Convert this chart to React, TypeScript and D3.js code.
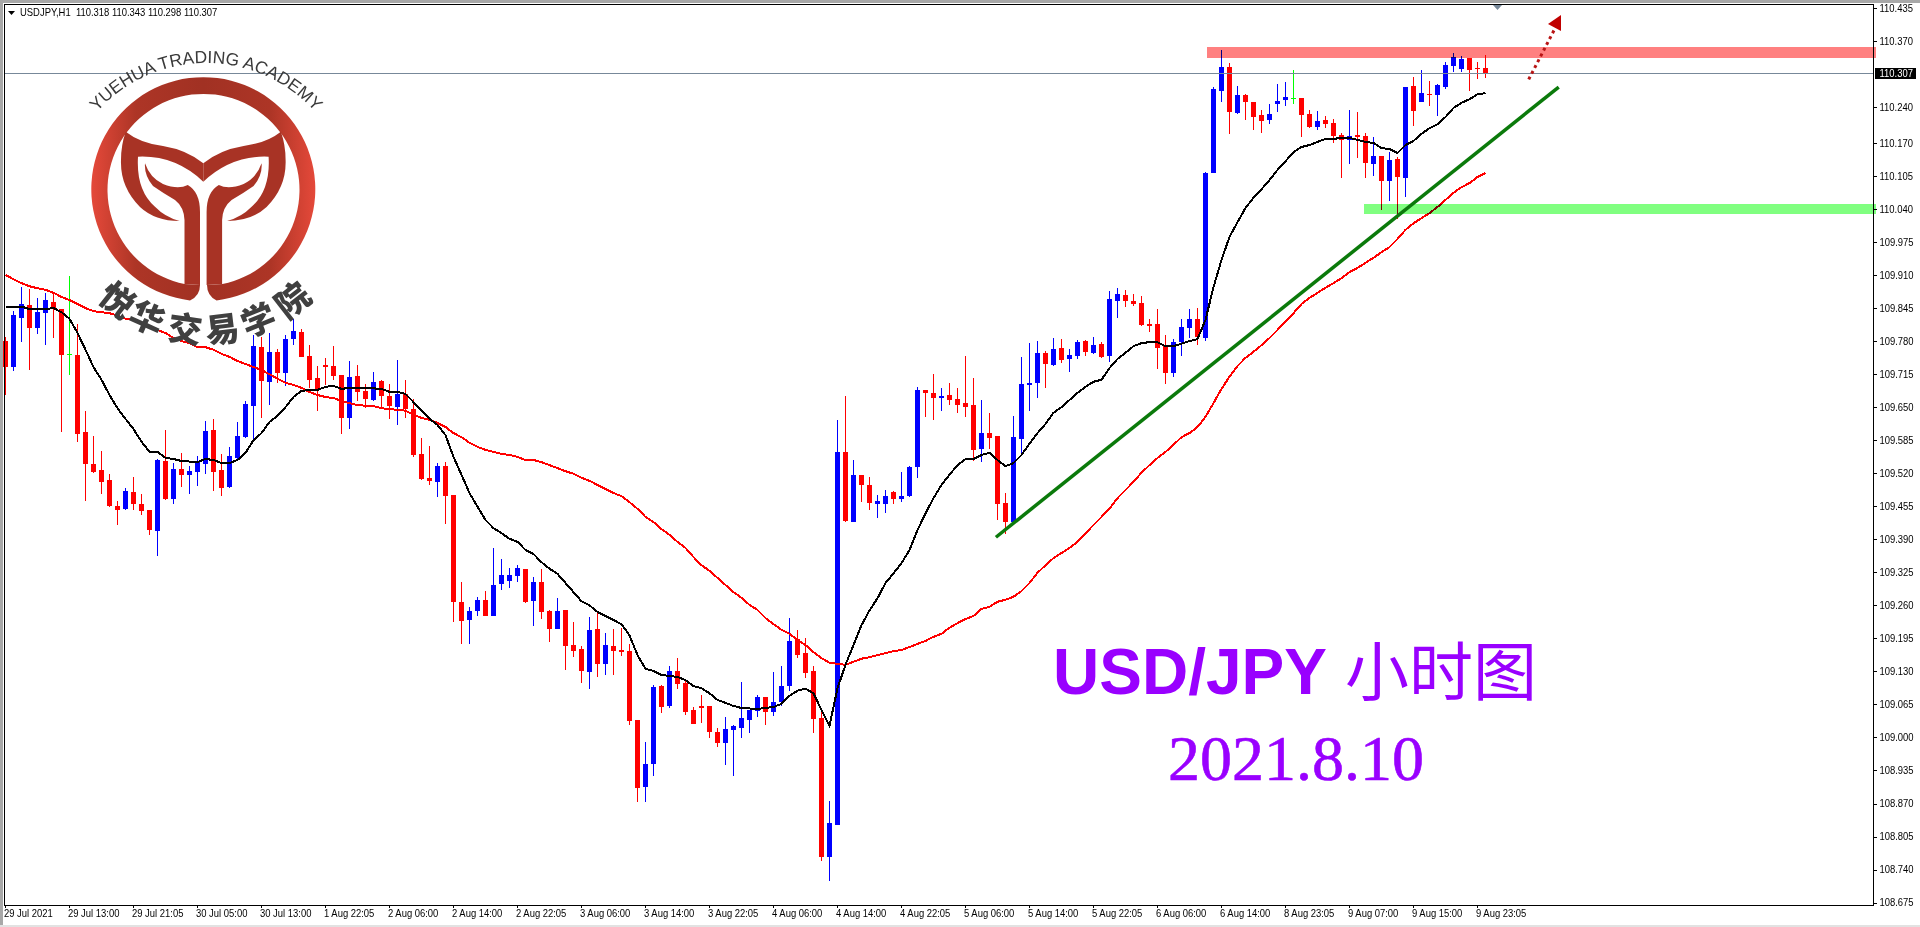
import React from 'react'
import * as d3 from 'd3'

const opens = [
  109.78, 109.73, 109.826, 109.851, 109.806, 109.835, 109.857, 109.843, 109.754, 109.753,
  109.601, 109.538, 109.526, 109.507, 109.456, 109.45, 109.483, 109.46, 109.448, 109.406,
  109.544, 109.469, 109.528, 109.517, 109.522, 109.538, 109.605, 109.526, 109.493, 109.55,
  109.591, 109.652, 109.768, 109.7, 109.759, 109.717, 109.784, 109.798, 109.751, 109.708,
  109.733, 109.731, 109.713, 109.629, 109.711, 109.682, 109.664, 109.702, 109.672, 109.65,
  109.676, 109.646, 109.558, 109.511, 109.503, 109.534, 109.477, 109.266, 109.231, 109.248,
  109.27, 109.24, 109.302, 109.308, 109.318, 109.332, 109.268, 109.306, 109.248, 109.213,
  109.25, 109.182, 109.174, 109.129, 109.213, 109.144, 109.18, 109.172, 109.17, 109.035,
  108.903, 108.948, 109.101, 109.062, 109.131, 109.107, 109.054, 109.062, 109.062, 109.011,
  108.989, 109.015, 109.019, 109.035, 109.052, 109.08, 109.05, 109.07, 109.101, 109.194,
  109.166, 109.131, 109.039, 108.765, 108.828, 109.562, 109.424, 109.517, 109.497, 109.46,
  109.46, 109.483, 109.469, 109.475, 109.532, 109.684, 109.678, 109.668, 109.674, 109.666,
  109.658, 109.654, 109.568, 109.599, 109.593, 109.461, 109.424, 109.587, 109.694, 109.698,
  109.757, 109.733, 109.767, 109.745, 109.751, 109.78, 109.757, 109.774, 109.751, 109.859,
  109.871, 109.859, 109.855, 109.814, 109.814, 109.77, 109.717, 109.778, 109.806, 109.824,
  109.786, 110.111, 110.272, 110.319, 110.229, 110.264, 110.251, 110.225, 110.215, 110.247,
  110.255, 110.258, 110.258, 110.227, 110.201, 110.215, 110.209, 110.186, 110.176, 110.186,
  110.184, 110.129, 110.144, 110.095, 110.138, 110.101, 110.282, 110.251, 110.266, 110.264,
  110.28, 110.321, 110.316, 110.337, 110.318, 110.318,
]
const highs = [
  109.789, 109.839, 109.887, 109.883, 109.865, 109.875, 109.873, 109.843, 109.908, 109.814,
  109.643, 109.593, 109.564, 109.519, 109.465, 109.491, 109.513, 109.479, 109.448, 109.548,
  109.605, 109.54, 109.56, 109.534, 109.554, 109.623, 109.627, 109.558, 109.572, 109.621,
  109.662, 109.792, 109.788, 109.796, 109.765, 109.792, 109.824, 109.804, 109.772, 109.731,
  109.747, 109.77, 109.713, 109.741, 109.733, 109.696, 109.719, 109.704, 109.696, 109.743,
  109.704, 109.666, 109.589, 109.574, 109.54, 109.542, 109.477, 109.306, 109.256, 109.276,
  109.288, 109.373, 109.351, 109.334, 109.339, 109.332, 109.316, 109.332, 109.25, 109.274,
  109.25, 109.227, 109.18, 109.237, 109.244, 109.205, 109.213, 109.215, 109.184, 109.035,
  108.991, 109.103, 109.103, 109.141, 109.156, 109.113, 109.06, 109.084, 109.062, 109.019,
  109.041, 109.025, 109.109, 109.054, 109.084, 109.08, 109.129, 109.141, 109.235, 109.211,
  109.196, 109.141, 109.056, 108.875, 109.625, 109.672, 109.546, 109.517, 109.513, 109.477,
  109.487, 109.485, 109.522, 109.534, 109.69, 109.684, 109.715, 109.688, 109.698, 109.688,
  109.751, 109.708, 109.664, 109.639, 109.593, 109.481, 109.633, 109.749, 109.776, 109.78,
  109.761, 109.786, 109.784, 109.765, 109.782, 109.782, 109.788, 109.778, 109.879, 109.885,
  109.881, 109.873, 109.869, 109.824, 109.843, 109.792, 109.784, 109.824, 109.843, 109.845,
  110.113, 110.28, 110.353, 110.327, 110.282, 110.266, 110.251, 110.235, 110.247, 110.286,
  110.29, 110.314, 110.258, 110.235, 110.233, 110.223, 110.217, 110.19, 110.235, 110.231,
  110.19, 110.182, 110.144, 110.152, 110.142, 110.28, 110.3, 110.314, 110.292, 110.286,
  110.329, 110.347, 110.341, 110.337, 110.329, 110.343,
]
const lows = [
  109.674, 109.721, 109.778, 109.723, 109.794, 109.772, 109.786, 109.601, 109.713, 109.582,
  109.465, 109.52, 109.479, 109.454, 109.418, 109.448, 109.448, 109.438, 109.399, 109.357,
  109.467, 109.46, 109.493, 109.479, 109.495, 109.519, 109.485, 109.475, 109.491, 109.548,
  109.589, 109.587, 109.629, 109.654, 109.698, 109.692, 109.772, 109.749, 109.688, 109.643,
  109.694, 109.704, 109.597, 109.607, 109.662, 109.648, 109.662, 109.646, 109.627, 109.615,
  109.629, 109.552, 109.507, 109.497, 109.473, 109.42, 109.227, 109.184, 109.184, 109.239,
  109.24, 109.24, 109.29, 109.294, 109.306, 109.264, 109.219, 109.233, 109.188, 109.213,
  109.133, 109.158, 109.107, 109.096, 109.119, 109.123, 109.123, 109.16, 109.025, 108.873,
  108.873, 108.924, 109.048, 109.058, 109.096, 109.044, 109.027, 109.029, 108.999, 108.981,
  108.946, 108.924, 108.999, 109.009, 109.041, 109.025, 109.043, 109.062, 109.092, 109.156,
  109.117, 109.009, 108.757, 108.718, 108.828, 109.424, 109.424, 109.463, 109.448, 109.432,
  109.442, 109.46, 109.463, 109.473, 109.511, 109.631, 109.625, 109.643, 109.654, 109.639,
  109.631, 109.544, 109.542, 109.568, 109.428, 109.401, 109.418, 109.556, 109.643, 109.668,
  109.688, 109.731, 109.737, 109.719, 109.745, 109.751, 109.755, 109.747, 109.739, 109.826,
  109.847, 109.849, 109.81, 109.798, 109.725, 109.696, 109.709, 109.751, 109.786, 109.772,
  109.78, 110.111, 110.251, 110.188, 110.227, 110.215, 110.196, 110.19, 110.207, 110.231,
  110.243, 110.247, 110.182, 110.199, 110.196, 110.199, 110.17, 110.101, 110.129, 110.14,
  110.101, 110.105, 110.038, 110.056, 110.02, 110.064, 110.203, 110.251, 110.243, 110.223,
  110.276, 110.31, 110.31, 110.272, 110.296, 110.298,
]
const closes = [
  109.73, 109.831, 109.853, 109.806, 109.837, 109.861, 109.843, 109.753, 109.754, 109.597,
  109.538, 109.522, 109.503, 109.456, 109.448, 109.485, 109.46, 109.446, 109.408, 109.546,
  109.469, 109.528, 109.517, 109.525, 109.542, 109.603, 109.522, 109.491, 109.554, 109.593,
  109.656, 109.77, 109.702, 109.759, 109.717, 109.784, 109.8, 109.749, 109.704, 109.684,
  109.729, 109.711, 109.629, 109.709, 109.68, 109.666, 109.7, 109.672, 109.652, 109.676,
  109.646, 109.556, 109.509, 109.505, 109.534, 109.475, 109.266, 109.229, 109.248, 109.27,
  109.24, 109.3, 109.32, 109.32, 109.334, 109.266, 109.306, 109.246, 109.213, 109.248,
  109.18, 109.17, 109.131, 109.211, 109.144, 109.182, 109.17, 109.168, 109.033, 108.901,
  108.948, 109.1, 109.06, 109.131, 109.105, 109.05, 109.027, 109.058, 109.011, 108.989,
  109.017, 109.023, 109.039, 109.054, 109.08, 109.05, 109.07, 109.101, 109.19, 109.162,
  109.127, 109.037, 108.765, 108.832, 109.562, 109.426, 109.517, 109.497, 109.461, 109.465,
  109.475, 109.469, 109.475, 109.532, 109.684, 109.678, 109.668, 109.672, 109.664, 109.654,
  109.65, 109.566, 109.599, 109.589, 109.46, 109.424, 109.591, 109.696, 109.698, 109.757,
  109.735, 109.765, 109.743, 109.753, 109.778, 109.759, 109.772, 109.749, 109.863, 109.873,
  109.859, 109.853, 109.812, 109.81, 109.767, 109.717, 109.778, 109.808, 109.824, 109.788,
  110.111, 110.276, 110.319, 110.231, 110.264, 110.251, 110.221, 110.213, 110.227, 110.253,
  110.26, 110.258, 110.225, 110.201, 110.213, 110.207, 110.184, 110.176, 110.184, 110.182,
  110.131, 110.144, 110.095, 110.136, 110.103, 110.28, 110.233, 110.268, 110.264, 110.284,
  110.323, 110.339, 110.335, 110.314, 110.316, 110.307,
]
const fastMa = [
  109.848, 109.848, 109.848, 109.843, 109.843, 109.843, 109.845, 109.837, 109.824, 109.796,
  109.763, 109.729, 109.704, 109.674, 109.648, 109.627, 109.607, 109.582, 109.562, 109.562,
  109.55, 109.548, 109.544, 109.543, 109.542, 109.548, 109.546, 109.54, 109.54, 109.546,
  109.56, 109.585, 109.599, 109.621, 109.633, 109.65, 109.67, 109.682, 109.684, 109.684,
  109.69, 109.692, 109.686, 109.688, 109.688, 109.688, 109.687, 109.686, 109.68, 109.68,
  109.676, 109.66, 109.643, 109.627, 109.615, 109.595, 109.552, 109.517, 109.481, 109.454,
  109.428, 109.412, 109.402, 109.391, 109.385, 109.369, 109.361, 109.345, 109.332, 109.322,
  109.304, 109.286, 109.268, 109.26, 109.247, 109.239, 109.231, 109.223, 109.201, 109.162,
  109.135, 109.131, 109.123, 109.121, 109.119, 109.113, 109.101, 109.097, 109.087, 109.074,
  109.068, 109.062, 109.058, 109.057, 109.056, 109.058, 109.06, 109.066, 109.082, 109.092,
  109.096, 109.087, 109.054, 109.023, 109.097, 109.143, 109.182, 109.221, 109.25, 109.274,
  109.304, 109.323, 109.343, 109.369, 109.408, 109.441, 109.471, 109.497, 109.517, 109.536,
  109.548, 109.548, 109.556, 109.56, 109.546, 109.534, 109.54, 109.556, 109.578, 109.599,
  109.617, 109.639, 109.65, 109.664, 109.678, 109.69, 109.7, 109.704, 109.727, 109.745,
  109.757, 109.77, 109.776, 109.778, 109.778, 109.77, 109.77, 109.775, 109.78, 109.784,
  109.822, 109.886, 109.94, 109.985, 110.014, 110.042, 110.062, 110.079, 110.097, 110.117,
  110.134, 110.152, 110.162, 110.166, 110.172, 110.178, 110.178, 110.18, 110.18, 110.176,
  110.172, 110.17, 110.16, 110.158, 110.15, 110.166, 110.174, 110.188, 110.199, 110.207,
  110.221, 110.239, 110.249, 110.256, 110.266, 110.268,
]
const slowMa = [
  109.91, 109.902, 109.894, 109.888, 109.884, 109.881, 109.875, 109.867, 109.861, 109.853,
  109.845, 109.839, 109.837, 109.835, 109.83, 109.824, 109.822, 109.816, 109.808, 109.802,
  109.796, 109.786, 109.78, 109.776, 109.768, 109.768, 109.763, 109.755, 109.749, 109.741,
  109.735, 109.729, 109.723, 109.715, 109.706, 109.698, 109.694, 109.688, 109.68, 109.674,
  109.67, 109.668, 109.662, 109.658, 109.654, 109.653, 109.652, 109.648, 109.646, 109.645,
  109.643, 109.635, 109.629, 109.625, 109.619, 109.611, 109.599, 109.591, 109.58, 109.572,
  109.566, 109.562, 109.558, 109.556, 109.552, 109.546, 109.546, 109.542, 109.536, 109.53,
  109.524, 109.519, 109.511, 109.505, 109.497, 109.489, 109.481, 109.475, 109.463, 109.45,
  109.434, 109.424, 109.41, 109.399, 109.385, 109.373, 109.355, 109.339, 109.328, 109.314,
  109.3, 109.286, 109.275, 109.261, 109.251, 109.235, 109.223, 109.212, 109.204, 109.192,
  109.182, 109.168, 109.156, 109.147, 109.145, 109.143, 109.149, 109.155, 109.158, 109.162,
  109.166, 109.17, 109.172, 109.178, 109.184, 109.19, 109.198, 109.204, 109.216, 109.225,
  109.233, 109.239, 109.253, 109.257, 109.267, 109.271, 109.277, 109.288, 109.304, 109.324,
  109.339, 109.353, 109.363, 109.373, 109.385, 109.402, 109.418, 109.434, 109.45, 109.471,
  109.487, 109.503, 109.521, 109.536, 109.55, 109.562, 109.576, 109.591, 109.599, 109.611,
  109.631, 109.658, 109.686, 109.71, 109.731, 109.747, 109.759, 109.772, 109.786, 109.802,
  109.818, 109.835, 109.853, 109.865, 109.875, 109.885, 109.894, 109.904, 109.916, 109.924,
  109.934, 109.944, 109.955, 109.965, 109.981, 109.999, 110.012, 110.022, 110.032, 110.044,
  110.058, 110.072, 110.083, 110.091, 110.103, 110.111,
]

const priceTicks = [
  '110.435', '110.370', '110.240', '110.170', '110.105', '110.040', '109.975', '109.910', '109.845',
  '109.780', '109.715', '109.650', '109.585', '109.520', '109.455', '109.390', '109.325', '109.260',
  '109.195', '109.130', '109.065', '109.000', '108.935', '108.870', '108.805', '108.740', '108.675',
]
const timeTicks = [
  '29 Jul 2021', '29 Jul 13:00', '29 Jul 21:05', '30 Jul 05:00', '30 Jul 13:00', '1 Aug 22:05',
  '2 Aug 06:00', '2 Aug 14:00', '2 Aug 22:05', '3 Aug 06:00', '3 Aug 14:00', '3 Aug 22:05',
  '4 Aug 06:00', '4 Aug 14:00', '4 Aug 22:05', '5 Aug 06:00', '5 Aug 14:00', '5 Aug 22:05',
  '6 Aug 06:00', '6 Aug 14:00', '8 Aug 23:05', '9 Aug 07:00', '9 Aug 15:00', '9 Aug 23:05',
]
const resistance = [110.359, 110.337]
const support = [110.05, 110.03]
const resistanceFrom = 150.2
const supportFrom = 169.8
const trendBars = [123.8, 194.15]
const trendPrices = [109.394, 110.28]
const arrowBars = [190.4, 194.0]
const arrowPrices = [110.295, 110.405]
const logoChars = ['悦', '华', '交', '易', '学', '院']
const logoAngles = [38, 24, 8, -7, -22, -38]

const W = 1920
const H = 927
const LEFT = 4
const AXIS_X = 1873.5
const BOTTOM = 905

const UP = '#0000ff'
const DOWN = '#ff0000'
const DOJI = '#00ff00'
const PURPLE = '#9900ff'

const x = d3.scaleLinear().domain([0, 1]).range([5.5, 13.5])
const y = d3.scaleLinear().domain([110.435, 108.675]).range([8.3, 902.6])

const maLine = d3
  .line<number>()
  .x((_, i) => x(i))
  .y((d) => y(d))

const AXIS_FONT = { fontFamily: '"Liberation Sans", Arial, sans-serif', fontSize: 10.5 }

// MT4 labels are narrow, so the glyphs get squeezed a bit
const Label: React.FC<{ px: number; py: number; fill?: string; children: React.ReactNode }> = ({
  px,
  py,
  fill,
  children,
}) => (
  <text transform={`translate(${px},${py}) scale(0.9,1)`} {...AXIS_FONT} fill={fill ?? '#000'}>
    {children}
  </text>
)

const Candles = () => (
  <g shapeRendering="crispEdges">
    {opens.map((o, i) => {
      const c = closes[i]
      const color = c > o ? UP : c < o ? DOWN : DOJI
      const top = Math.round(y(Math.max(o, c)))
      const bottom = Math.round(y(Math.min(o, c)))
      const hi = Math.round(y(highs[i]))
      const lo = Math.round(y(lows[i]))
      return (
        <g key={i} fill={color}>
          <rect x={x(i) - 0.5} y={hi} width={1} height={Math.max(lo - hi, 1)} />
          <rect x={x(i) - 2.5} y={top} width={5} height={Math.max(bottom - top, 1)} />
        </g>
      )
    })}
  </g>
)

const Logo = () => {
  const cx = 203.3
  const cy = 189
  const ring = `M190 300.4 A112 112 0 1 1 216.6 300.4 Q207 296 207 285 L222.5 284
    A96 96 0 1 0 184.5 284 L200 285 Q200 296 190 300.4 Z`
  const half = `M125.7 131.7 Q140 143 163 146 Q187 150 ${cx} 163.3 L${cx} 181.7 Q175 155 138 156.7
    Q136 190 155 206.7 Q165 217 179.6 221 Q155 221 140 207 Q120 187 121 160 Q121 145 125.7 131.7 Z
    M145 163.3 Q150 178 163 184 Q178 190 187.8 185 Q200 192 200 212 L200 285 L184.5 284 L184.5 220
    Q184 207 175 200 Q163 193 153 186 Q144 175 145 163.3 Z`
  return (
    <g data-center-y={cy}>
      <defs>
        <linearGradient id="logoFill" gradientUnits="userSpaceOnUse" x1={91} x2={315.5} y1={0} y2={0}>
          <stop offset="0" stopColor="#e5493a" />
          <stop offset="0.2" stopColor="#ad3526" />
          <stop offset="0.5" stopColor="#a13123" />
          <stop offset="0.8" stopColor="#ad3526" />
          <stop offset="1" stopColor="#e5493a" />
        </linearGradient>
        <path id="logoArc" d="M60 209 A146 146 0 0 1 352 209" />
      </defs>
      <path d={ring} fill="url(#logoFill)" />
      <path d={half} fill="#a83325" />
      <path d={half} fill="#a83325" transform={`translate(${2 * cx},0) scale(-1,1)`} />
      <text fontFamily='"Liberation Sans", Arial, sans-serif' fontSize={17.5} fill="#3a3a3a">
        <textPath href="#logoArc" startOffset="50%" textAnchor="middle">
          YUEHUA TRADING ACADEMY
        </textPath>
      </text>
      {logoChars.map((ch, i) => {
        const a = (logoAngles[i] * Math.PI) / 180
        const px = 205 - 142 * Math.sin(a)
        const py = 188 + 142 * Math.cos(a)
        return (
          <text
            key={ch}
            transform={`translate(${px},${py}) rotate(${logoAngles[i]})`}
            textAnchor="middle"
            dy="0.38em"
            fontFamily='"Noto Sans CJK SC", sans-serif'
            fontWeight={900}
            fontSize={34}
            fill="#404040"
          >
            {ch}
          </text>
        )
      })}
    </g>
  )
}

export default function App() {
  const last = closes[closes.length - 1]
  const priceY = Math.round(y(last))
  return (
    <svg width={W} height={H} style={{ position: 'absolute', left: 0, top: 0, display: 'block', background: '#fff' }}>
      {/* window chrome */}
      <g shapeRendering="crispEdges">
        <rect x={0} y={0} width={W} height={3} fill="#a8a8a8" />
        <rect x={0} y={0} width={3} height={H - 2} fill="#a8a8a8" />
        <rect x={0} y={H - 2} width={W} height={2} fill="#e2e2e2" />
      </g>

      <Candles />

      <path d={maLine(slowMa) ?? ''} fill="none" stroke={DOWN} strokeWidth={2} shapeRendering="crispEdges" />
      <path d={maLine(fastMa) ?? ''} fill="none" stroke="#000" strokeWidth={2} shapeRendering="crispEdges" />

      {/* last price line */}
      <line x1={LEFT} x2={AXIS_X} y1={priceY + 0.5} y2={priceY + 0.5} stroke="#778899" shapeRendering="crispEdges" />

      {/* zones, they darken whatever runs under them */}
      <g style={{ mixBlendMode: 'multiply' }} shapeRendering="crispEdges">
        <rect
          x={x(resistanceFrom)}
          y={y(resistance[0])}
          width={1876 - x(resistanceFrom)}
          height={y(resistance[1]) - y(resistance[0])}
          fill="#ff8080"
        />
        <rect
          x={x(supportFrom)}
          y={y(support[0])}
          width={1876 - x(supportFrom)}
          height={y(support[1]) - y(support[0])}
          fill="#80ff80"
        />
      </g>

      {/* trend line */}
      <line
        x1={x(trendBars[0])}
        x2={x(trendBars[1])}
        y1={y(trendPrices[0])}
        y2={y(trendPrices[1])}
        stroke="#0b7a0b"
        strokeWidth={3.5}
      />

      {/* projected move */}
      <line
        x1={x(arrowBars[0])}
        x2={x(arrowBars[1])}
        y1={y(arrowPrices[0])}
        y2={y(arrowPrices[1])}
        stroke="#b81414"
        strokeWidth={3}
        strokeDasharray="3 3.5"
      />
      <polygon points="1561,15 1548,24 1561,31" fill="#c00000" />

      {/* frame and axes */}
      <g shapeRendering="crispEdges" stroke="#000" fill="none">
        <line x1={LEFT} x2={AXIS_X} y1={4.5} y2={4.5} />
        <line x1={LEFT + 0.5} x2={LEFT + 0.5} y1={4} y2={BOTTOM} />
        <line x1={AXIS_X} x2={AXIS_X} y1={4} y2={BOTTOM} />
        <line x1={LEFT} x2={AXIS_X} y1={BOTTOM + 0.5} y2={BOTTOM + 0.5} />
        {priceTicks.map((t) => (
          <line key={t} x1={AXIS_X} x2={AXIS_X + 3} y1={Math.round(y(+t)) + 0.5} y2={Math.round(y(+t)) + 0.5} />
        ))}
        {timeTicks.map((t, i) => (
          <line key={t} x1={x(i * 8)} x2={x(i * 8)} y1={BOTTOM} y2={BOTTOM + 3} />
        ))}
      </g>
      {priceTicks.map((t) => (
        <Label key={t} px={1879.5} py={y(+t) + 3.8}>
          {t}
        </Label>
      ))}
      {timeTicks.map((t, i) => (
        <Label key={t} px={x(i * 8) - 1.5} py={917}>
          {t}
        </Label>
      ))}

      {/* last price tag */}
      <rect x={1875} y={68} width={41} height={11} fill="#000" shapeRendering="crispEdges" />
      <Label px={1879.5} py={y(last) + 3.8} fill="#fff">
        {last.toFixed(3)}
      </Label>

      {/* shift marker */}
      <polygon points="1493,5 1502,5 1497.5,10" fill="#778899" />

      {/* header */}
      <polygon points="8,11 15,11 11.5,15" fill="#000" />
      <Label px={20} py={16}>
        {`USDJPY,H1\u00a0\u00a0${opens[185].toFixed(3)} ${highs[185].toFixed(3)} ${lows[185].toFixed(3)} ${last.toFixed(3)}`}
      </Label>

      {/* captions */}
      <text x={1053} y={694} fontFamily='"Liberation Sans", Arial, sans-serif' fontWeight={700} fontSize={64} fill={PURPLE}>
        USD/JPY
      </text>
      <text x={1345} y={695} fontFamily='"Noto Sans CJK SC", sans-serif' fontSize={64} fill={PURPLE}>
        小时图
      </text>
      <text
        x={1168}
        y={780}
        fontFamily='"Liberation Serif", serif'
        fontSize={64}
        fill={PURPLE}
        stroke={PURPLE}
        strokeWidth={0.6}
      >
        2021.8.10
      </text>

      <Logo />
    </svg>
  )
}
